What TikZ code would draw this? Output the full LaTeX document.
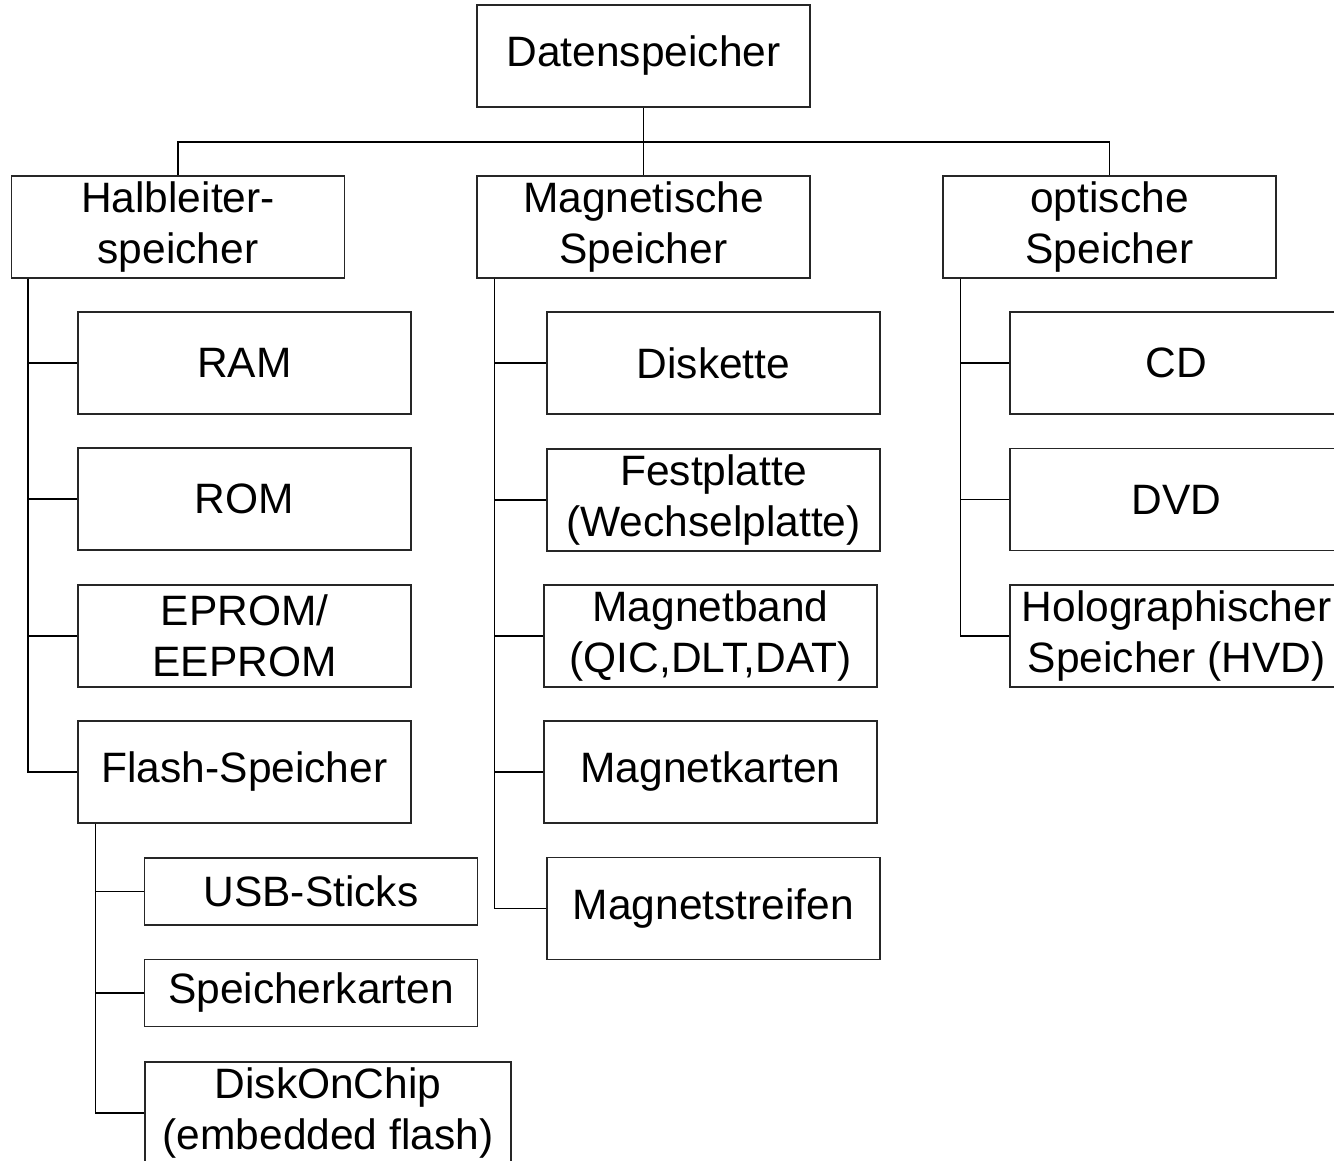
\documentclass[tikz,border=0pt]{standalone}
\usepackage{fontspec}
\setmainfont{Liberation Sans}
\usepackage{tikz}
\usetikzlibrary{positioning,calc}

\tikzset{
  box/.style={draw=black!85,line width=1.4pt,fill=white,inner sep=0pt,align=center,
    minimum width=333pt,minimum height=102pt,font=\fontsize{42.5}{51}\selectfont},
  smallbox/.style={box,minimum height=67pt},
  link/.style={draw=black,line width=1.6pt}
}

\begin{document}
\begin{tikzpicture}[x=1pt,y=-1pt]
  \useasboundingbox (0,0) rectangle (1334,1161);
  \clip (0,0) rectangle (1334,1161);
  \fill[white] (0,0) rectangle (1334,1161);

  % root and first level
  \node[box] (root) at (643.5,56) {Datenspeicher};
  \node[box] (hl) at (178,227) {Halbleiter-\\speicher};
  \node[box] (mag) at (643.5,227) {Magnetische\\Speicher};
  \node[box] (opt) at (1109.5,227) {optische\\Speicher};
  \coordinate (bus) at (643.5,142);
  \draw[link] (root.south) -- (bus);
  \draw[link] (hl.north) |- (bus) -| (opt.north);
  \draw[link] (bus) -- (mag.north);

  % Halbleiterspeicher
  \node[box] (ram) at (244.5,363) {RAM};
  \node[box] (rom) at (244.5,499) {ROM};
  \node[box] (eprom) at (244.5,636) {EPROM/\\EEPROM};
  \node[box] (flash) at (244.5,772) {Flash-Speicher};
  \foreach \n in {ram,rom,eprom,flash}
    \draw[link] ([xshift=17pt]hl.south west) |- (\n.west);

  % Flash-Speicher
  \node[smallbox] (usb) at (311,891.5) {USB-Sticks};
  \node[smallbox] (karten) at (311,993) {Speicherkarten};
  \node[box,minimum width=366pt] (doc) at (328,1113) {DiskOnChip\\(embedded flash)};
  \foreach \n in {usb,karten,doc}
    \draw[link] ([xshift=18pt]flash.south west) |- (\n.west);

  % Magnetische Speicher
  \node[box] (disk) at (713.5,363) {Diskette};
  \node[box] (fest) at (713.5,500) {Festplatte\\(Wechselplatte)};
  \node[box] (band) at (710.5,636) {Magnetband\\(QIC,DLT,DAT)};
  \node[box] (mkarten) at (710.5,772) {Magnetkarten};
  \node[box] (streifen) at (713.5,908.5) {Magnetstreifen};
  \foreach \n in {disk,fest,band,mkarten,streifen}
    \draw[link] ([xshift=18pt]mag.south west) |- (\n.west);

  % optische Speicher
  \node[box] (cd) at (1176.5,363) {CD};
  \node[box] (dvd) at (1176.5,499.5) {DVD};
  \node[box] (hvd) at (1176.5,636) {Holographischer\\Speicher (HVD)};
  \foreach \n in {cd,dvd,hvd}
    \draw[link] ([xshift=18pt]opt.south west) |- (\n.west);
\end{tikzpicture}
\end{document}
